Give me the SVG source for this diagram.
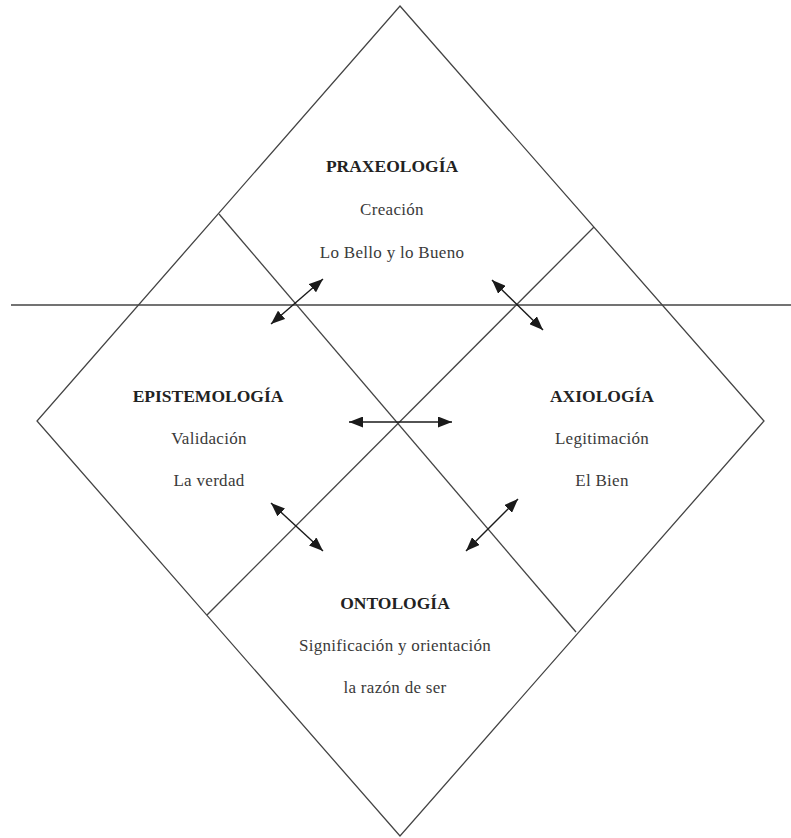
<svg xmlns="http://www.w3.org/2000/svg" width="791" height="838" viewBox="0 0 791 838">
<defs>
<marker id="ah" viewBox="0 0 14 11" refX="14" refY="5.5" markerWidth="14" markerHeight="11" markerUnits="userSpaceOnUse" orient="auto-start-reverse">
<path d="M0,0 L14,5.5 L0,11 Z" fill="#1a1a1a"/>
</marker>
<style>
.ln{stroke:#444;stroke-width:1.3;fill:none}
.ar{stroke:#1a1a1a;stroke-width:1.4;fill:none;marker-start:url(#ah);marker-end:url(#ah)}
.t{font-family:"Liberation Serif","Times New Roman",serif;font-size:17.5px;font-weight:bold;fill:#222;text-anchor:middle}
.s{font-family:"Liberation Serif","Times New Roman",serif;font-size:17px;fill:#3a3a3a;text-anchor:middle;letter-spacing:0.3px}
</style>
</defs>
<g id="frame">
<polygon class="ln" points="400,6 764,421 400,836 37,421"/>
<line class="ln" x1="11" y1="305" x2="791" y2="305"/>
<line class="ln" x1="219" y1="214" x2="576" y2="632"/>
<line class="ln" x1="594" y1="227" x2="207" y2="615"/>
</g>
<g id="praxeologia">
<text class="t" x="392" y="172">PRAXEOLOGÍA</text>
<text class="s" x="392" y="215">Creación</text>
<text class="s" x="392" y="258">Lo Bello y lo Bueno</text>
</g>
<g id="epistemologia">
<text class="t" x="208" y="402">EPISTEMOLOGÍA</text>
<text class="s" x="209" y="444">Validación</text>
<text class="s" x="209" y="486">La verdad</text>
</g>
<g id="axiologia">
<text class="t" x="602" y="402">AXIOLOGÍA</text>
<text class="s" x="602" y="444">Legitimación</text>
<text class="s" x="602" y="486">El Bien</text>
</g>
<g id="ontologia">
<text class="t" x="395" y="609">ONTOLOGÍA</text>
<text class="s" x="395" y="651">Significación y orientación</text>
<text class="s" x="395" y="693">la razón de ser</text>
</g>
<g id="connectors">
<line class="ar" x1="271" y1="324" x2="323" y2="279"/>
<line class="ar" x1="492" y1="280" x2="543" y2="330"/>
<line class="ar" x1="349" y1="422" x2="452" y2="422"/>
<line class="ar" x1="271" y1="503" x2="323" y2="551"/>
<line class="ar" x1="466" y1="551" x2="518" y2="499"/>
</g>
</svg>
